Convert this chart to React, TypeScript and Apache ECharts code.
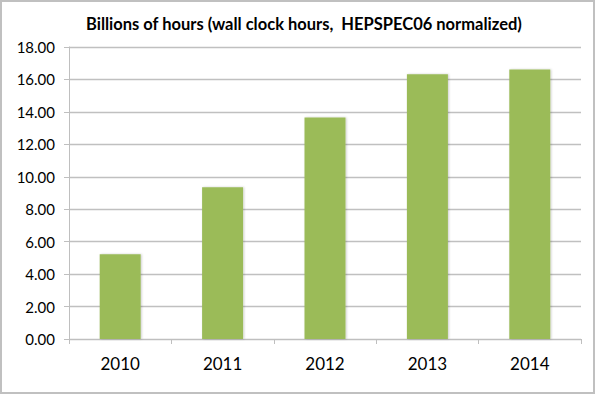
import React, { useEffect, useRef } from "react";
import * as echarts from "echarts";

const years = ["2010", "2011", "2012", "2013", "2014"];
const hours = [5.23, 9.35, 13.66, 16.32, 16.62];
const titleText = "Billions of hours (wall clock hours,  HEPSPEC06 normalized)";

export default function App() {
  const ref = useRef<HTMLDivElement>(null);
  useEffect(() => {
    document.body.style.margin = "0";
    const chart = echarts.init(ref.current!, null, { renderer: "svg" });
    const font = "Lato, 'Open Sans', sans-serif";
    chart.setOption({
      animation: false,
      backgroundColor: "#ffffff",
      title: {
        text: titleText,
        left: 86,
        top: 15,
        padding: 0,
        textStyle: { fontFamily: font, fontSize: 16.5, fontWeight: "bold", color: "#000" },
      },
      graphic: [
        {
          type: "rect",
          shape: { x: 1, y: 1, width: 593, height: 392 },
          style: { fill: "none", stroke: "#c0c0c0", lineWidth: 2 },
          silent: true,
        },
      ],
      grid: { left: 69, right: 15, top: 47, bottom: 56, containLabel: false },
      xAxis: {
        type: "category",
        data: years,
        axisLine: { lineStyle: { color: "#bfbfbf", width: 1 } },
        axisTick: { show: true, length: 5, lineStyle: { color: "#bfbfbf" } },
        axisLabel: { fontFamily: font, fontSize: 17, color: "#000", margin: 16 },
      },
      yAxis: {
        type: "value",
        min: 0,
        max: 18,
        interval: 2,
        axisLine: { show: true, lineStyle: { color: "#bfbfbf", width: 1 } },
        axisTick: { show: true, length: 5, lineStyle: { color: "#bfbfbf" } },
        splitLine: { lineStyle: { color: "#c0c0c0", width: 1.3 } },
        axisLabel: {
          fontFamily: font,
          fontSize: 15,
          color: "#000",
          margin: 14,
          formatter: (v: number) => v.toFixed(2),
        },
      },
      series: [
        {
          type: "bar",
          data: hours,
          barWidth: 41,
          itemStyle: {
            color: "#9bbb59",
            shadowColor: "rgba(0,0,0,0.2)",
            shadowBlur: 2,
            shadowOffsetX: 1,
            shadowOffsetY: 0,
          },
        },
      ],
    });
    return () => chart.dispose();
  }, []);
  return <div ref={ref} style={{ width: 596, height: 395 }} />;
}
